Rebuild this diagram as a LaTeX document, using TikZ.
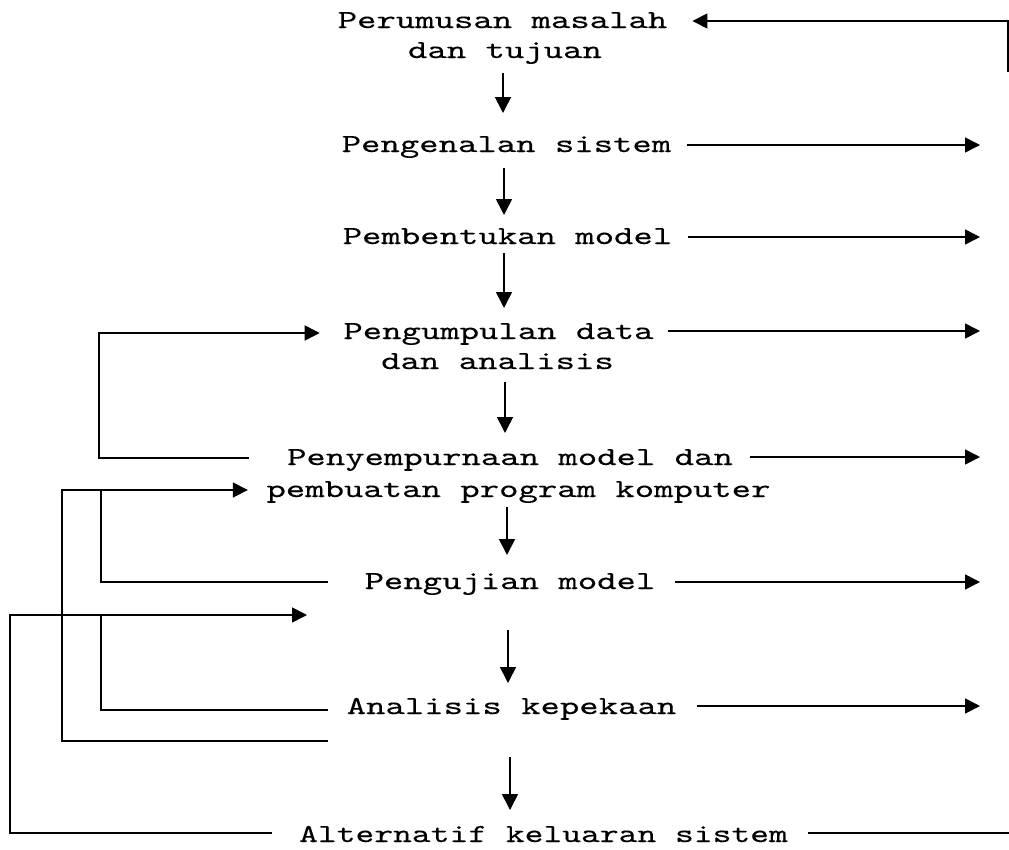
\documentclass[tikz,border=0pt]{standalone}
\usepackage{fontspec}
\setmonofont[FakeBold=0.2]{lmmono10-regular.otf}
\usepackage{graphicx}
\usetikzlibrary{arrows.meta}
\newcommand{\wtt}[1]{\scalebox{1.42}[1]{#1}}
\newcommand{\wttn}[1]{\scalebox{1.377}[1]{#1}}
\begin{document}
\begin{tikzpicture}[x=1pt,y=-1pt,
  lab/.style={inner sep=0pt,anchor=base,font=\fontsize{26}{30}\selectfont\ttfamily},
  conn/.style={line width=1.6pt},
  arr/.style={conn,-{Triangle[length=15pt,width=15pt]}},
  darr/.style={conn,-{Triangle[length=16pt,width=16pt]}}]
\useasboundingbox (0,0) rectangle (1009,849);
\fill[white] (0,0) rectangle (1009,849);

% free-end and routing coordinates
\coordinate (R) at (980,0);
\coordinate (Rend) at (1009,0);
\coordinate (LA) at (99,0);
\coordinate (LB) at (101,0);
\coordinate (LD) at (62,0);
\coordinate (LE) at (10,0);
\coordinate (Etip) at (307,615);
\coordinate (Dstart) at (328,741);
\coordinate (Tstart) at (1008,72);

% steps
\node[lab] (s1a) at (502.5,28) {\wtt{Perumusan masalah}};
\node[lab] (s1b) at (505,58) {\wtt{dan tujuan}};
\node[lab] (s2) at (506.5,152) {\wtt{Pengenalan sistem}};
\node[lab] (s3) at (507.5,244) {\wtt{Pembentukan model}};
\node[lab] (s4a) at (498.5,339) {\wtt{Pengumpulan data}};
\node[lab] (s4b) at (497.5,369) {\wtt{dan analisis}};
\node[lab] (s5a) at (510,465) {\wtt{Penyempurnaan model dan}};
\node[lab] (s5b) at (518.5,497) {\wtt{pembuatan program komputer}};
\node[lab] (s6) at (510,589) {\wtt{Pengujian model}};
\node[lab] (s7) at (511.5,714) {\wtt{Analisis kepekaan}};
\node[lab] (s8) at (543.5,842) {\wttn{Alternatif keluaran sistem}};

% vertical arrows
\draw[darr] ([shift={(-2,15)}]s1b.base) -- ([shift={(-3.5,-39)}]s2.base);
\draw[darr] ([shift={(-2.5,16)}]s2.base) -- ([shift={(-3.5,-29)}]s3.base);
\draw[darr] ([shift={(-3.5,9)}]s3.base) -- ([shift={(5.5,-31)}]s4a.base);
\draw[darr] ([shift={(7.5,13)}]s4b.base) -- ([shift={(-5,-32)}]s5a.base);
\draw[darr] ([shift={(-11.5,10)}]s5b.base) -- ([shift={(-3,-34)}]s6.base);
\draw[darr] ([shift={(-2,41)}]s6.base) -- ([shift={(-3.5,-31)}]s7.base);
\draw[darr] ([shift={(-1.5,43)}]s7.base) -- ([shift={(-33.5,-32)}]s8.base);

% right arrows
\draw[arr] ([xshift=16pt,yshift=7pt]s2.base east) coordinate (r2) -- (r2 -| R);
\draw[arr] ([xshift=16pt,yshift=7pt]s3.base east) coordinate (r3) -- (r3 -| R);
\draw[arr] ([xshift=14.5pt,yshift=8pt]s4a.base east) coordinate (r4) -- (r4 -| R);
\draw[arr] ([xshift=17pt,yshift=8pt]s5a.base east) coordinate (r5) -- (r5 -| R);
\draw[arr] ([xshift=19.6pt,yshift=7pt]s6.base east) coordinate (r6) -- (r6 -| R);
\draw[arr] ([xshift=21pt,yshift=8pt]s7.base east) coordinate (r7) -- (r7 -| R);
\draw[conn] ([xshift=20pt,yshift=9pt]s8.base east) coordinate (r8) -- (r8 -| Rend);

% top feedback
\coordinate (t1) at ([xshift=25pt,yshift=7pt]s1a.base east);
\draw[arr] (Tstart) -- (Tstart |- t1) -- (t1);

% left feedback loops
\coordinate (a1) at ([xshift=-38pt,yshift=7pt]s5a.base west);
\coordinate (a2) at ([xshift=-23.5pt,yshift=6pt]s4a.base west);
\draw[arr] (a1) -- (a1 -| LA) -- (a2 -| LA) -- (a2);

\coordinate (b1) at ([xshift=-36.6pt,yshift=7pt]s6.base west);
\coordinate (b2) at ([xshift=-18.5pt,yshift=7pt]s5b.base west);
\draw[arr] (b1) -- (b1 -| LB) -- (b2 -| LB) -- (b2);

\coordinate (c1) at ([xshift=-18.8pt,yshift=4pt]s7.base west);
\draw[conn] (c1) -- (c1 -| LB) -- (Etip -| LB);

\draw[conn] (Dstart) -- (Dstart -| LD) -- (b2 -| LD) -- (b2 -| LB);

\coordinate (e1) at ([xshift=-27pt,yshift=9pt]s8.base west);
\draw[arr] (e1) -- (e1 -| LE) -- (Etip -| LE) -- (Etip);
\end{tikzpicture}
\end{document}
